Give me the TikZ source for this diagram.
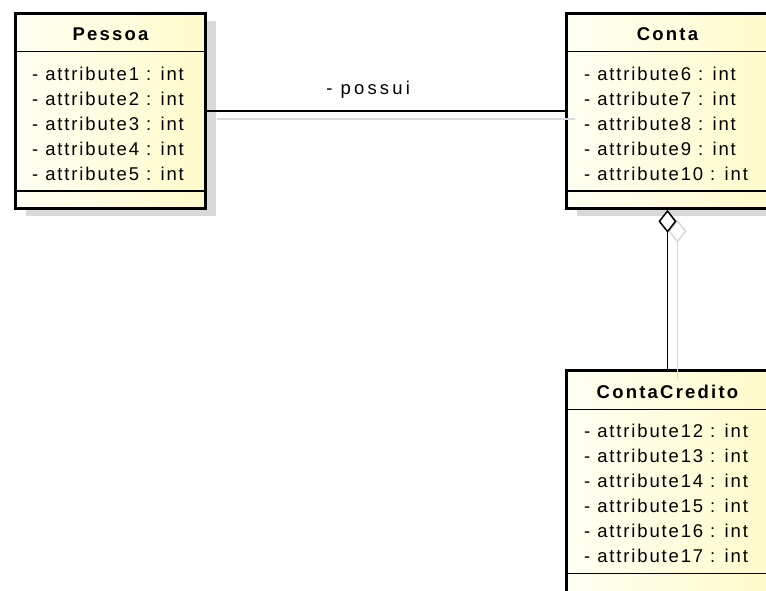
\documentclass[tikz,border=0pt]{standalone}
\usepackage{fontspec}
\newfontfamily\umlfont[LetterSpace=10]{Liberation Sans}
\newfontfamily\umlnamefont[LetterSpace=12]{Liberation Sans}
\newfontfamily\umllabelfont[LetterSpace=17]{Liberation Sans}
\usetikzlibrary{arrows.meta,shadows}
\definecolor{umlfilla}{HTML}{FFFFF2}
\definecolor{umlfillb}{HTML}{FFFBCB}
\definecolor{shadowgray}{HTML}{D9D9D9}
\begin{document}
\begin{tikzpicture}[x=1pt,y=-1pt,
    umlclass/.style={draw=black,line width=3pt,left color=umlfilla,right color=umlfillb,
      drop shadow={shadow xshift=10pt,shadow yshift=-8pt,fill=shadowgray,opacity=1}},
    umlname/.style={inner sep=0pt,anchor=base,font=\umlnamefont\bfseries\fontsize{18.5}{22}\selectfont},
    umlattr/.style={inner sep=0pt,anchor=base west,font=\umlfont\fontsize{18.5}{22}\selectfont},
    umlsep/.style={line width=1.5pt},
    umlline/.style={line width=1.5pt},
    umlshadow/.style={draw=shadowgray,line width=1.5pt},
    aggtip/.style={-{Diamond[length=23pt,width=18pt,fill=white]}}]
    \useasboundingbox (0,0) rectangle (766,590);
    \clip (0,0) rectangle (766,590);

    \node[umlclass,minimum width=190pt,minimum height=195pt] (pessoa) at (110.5,110.8) {};
    \node[umlclass,minimum width=202pt,minimum height=195pt] (conta) at (667.5,110.8) {};
    \node[umlclass,minimum width=202pt,minimum height=221.5pt] (contacredito) at (667.5,481.25) {};

    \draw[umlsep] (pessoa.west |- 0,51.7) -- (pessoa.east |- 0,51.7);
    \draw[umlsep] (pessoa.west |- 0,191) -- (pessoa.east |- 0,191);
    \draw[umlsep] (conta.west |- 0,51.7) -- (conta.east |- 0,51.7);
    \draw[umlsep] (conta.west |- 0,191) -- (conta.east |- 0,191);
    \draw[umlsep] (contacredito.west |- 0,409.3) -- (contacredito.east |- 0,409.3);
    \draw[umlsep] (contacredito.west |- 0,573.3) -- (contacredito.east |- 0,573.3);

    \node[umlname] (pessoa-name) at (110.5,40.5) {Pessoa};
    \node[umlname] (conta-name) at (667.5,40.5) {Conta};
    \node[umlname] (contacredito-name) at (667.5,398.3) {ContaCredito};

    \foreach \i in {1,...,5}
        \node[umlattr] (pessoa-a\i) at (32,{80.5+25*(\i-1)}) {- attribute\i{} : int};
    \foreach \i [count=\k from 0] in {6,...,10}
        \node[umlattr] (conta-a\i) at (584,{80.5+25*\k}) {- attribute\i{} : int};
    \foreach \i [count=\k from 0] in {12,...,17}
        \node[umlattr] (contacredito-a\i) at (584,{437.3+25*\k}) {- attribute\i{} : int};

    \draw[umlshadow,transform canvas={xshift=10pt,yshift=-8pt}] (pessoa) -- (conta);
    \draw[umlline] (pessoa) -- node[pos=.45,above=12pt,inner sep=0pt,font=\umllabelfont\fontsize{18.5}{22}\selectfont] (possui) {- possui} (conta);

    \draw[umlshadow,aggtip,transform canvas={xshift=10pt,yshift=-10pt}] (contacredito) -- (conta);
    \draw[umlline,aggtip] (contacredito) -- (conta);
\end{tikzpicture}
\end{document}
